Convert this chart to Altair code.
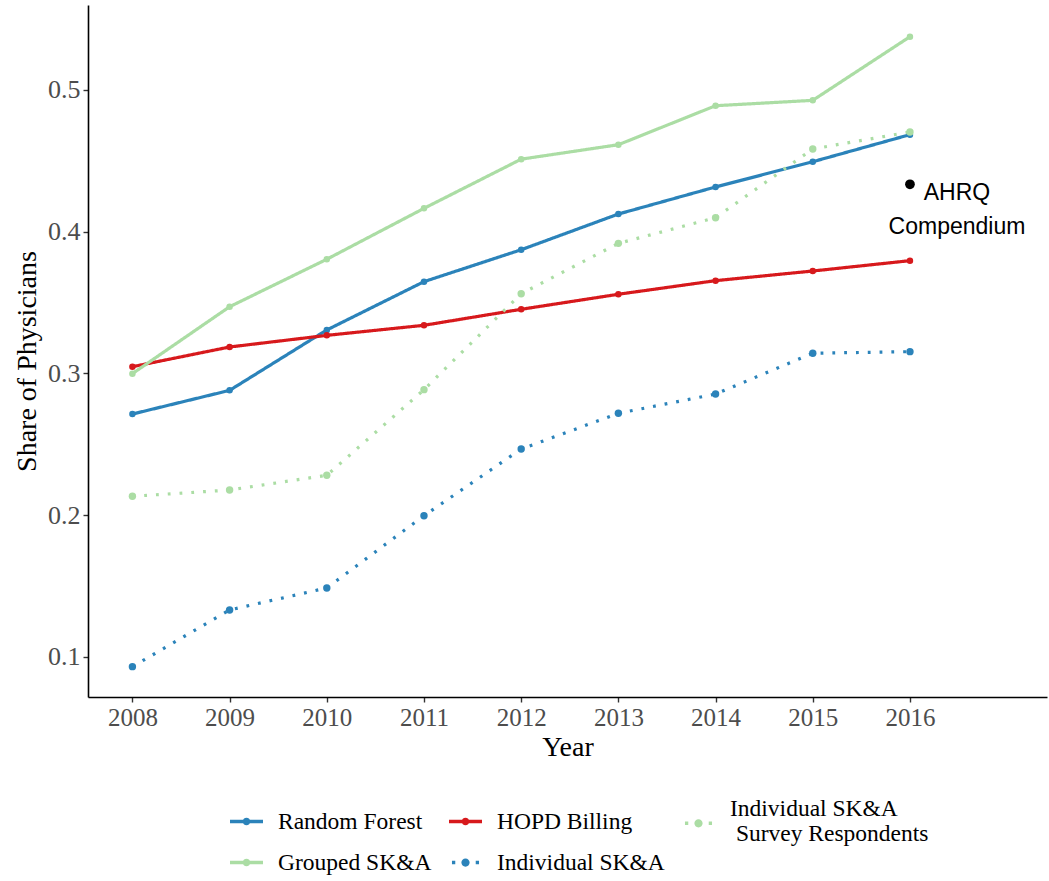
import altair as alt
import pandas as pd

# Share of physicians by year and measurement approach
years = [2008, 2009, 2010, 2011, 2012, 2013, 2014, 2015, 2016]
random_forest = [0.2714, 0.2881, 0.3307, 0.3648, 0.3873, 0.4125, 0.4316, 0.4494, 0.4685]
grouped_ska = [0.2999, 0.3471, 0.3806, 0.4165, 0.4512, 0.4614, 0.4889, 0.4927, 0.5376]
hopd_billing = [0.3048, 0.3187, 0.3269, 0.3340, 0.3453, 0.3559, 0.3655, 0.3723, 0.3796]
individual_ska = [0.0932, 0.1332, 0.1487, 0.1997, 0.2467, 0.2719, 0.2855, 0.3143, 0.3154]
survey_respondents = [0.2134, 0.2178, 0.2282, 0.2886, 0.3563, 0.3918, 0.4099, 0.4584, 0.4704]

ahrq_year = [2016]
ahrq_share = [0.4335]
ahrq_label = ["AHRQ\nCompendium"]

SURVEY = "Individual SK&A Survey Respondents"
series_order = ["Random Forest", "HOPD Billing", SURVEY, "Grouped SK&A", "Individual SK&A"]
series_values = {
    "Random Forest": random_forest,
    "HOPD Billing": hopd_billing,
    SURVEY: survey_respondents,
    "Grouped SK&A": grouped_ska,
    "Individual SK&A": individual_ska,
}
series_style = {
    "Random Forest": "solid",
    "HOPD Billing": "solid",
    SURVEY: "dotted",
    "Grouped SK&A": "solid",
    "Individual SK&A": "dotted",
}
series_colors = ["#2b83ba", "#d7191c", "#abdda4", "#abdda4", "#2b83ba"]
style_order = ["solid", "dotted"]
style_dash = [[1, 0], [2.8, 9]]
style_point_size = [42, 55]

# legend keys: a line segment with a dot in the middle
SOLID_KEY = ("M-1,-0.11H1V0.11H-1Z "
             "M0.23,0A0.23,0.23 0 1,1 -0.23,0A0.23,0.23 0 1,1 0.23,0Z")
DOTTED_KEY = ("M-0.82,-0.1h0.2v0.2h-0.2Z M0.62,-0.1h0.2v0.2h-0.2Z "
              "M0.25,0A0.25,0.25 0 1,1 -0.25,0A0.25,0.25 0 1,1 0.25,0Z")
# same dotted key, lowered to sit between the two lines of its label
DOTTED_KEY_LOW = ("M-0.82,0.78h0.2v0.2h-0.2Z M0.62,0.78h0.2v0.2h-0.2Z "
                  "M0.25,0.88A0.25,0.25 0 1,1 -0.25,0.88A0.25,0.25 0 1,1 0.25,0.88Z")
series_keys = [SOLID_KEY, SOLID_KEY, DOTTED_KEY_LOW, SOLID_KEY, DOTTED_KEY]

rows = []
for name in series_order:
    for yr, v in zip(years, series_values[name]):
        rows.append({"year": yr, "share": v, "series": name, "style": series_style[name]})
df = pd.DataFrame(rows)
ahrq = pd.DataFrame({"year": ahrq_year, "share": ahrq_share, "label": ahrq_label})

SERIF = "Liberation Serif"

x_enc = alt.X(
    "year:Q",
    scale=alt.Scale(domain=[2007.543, 2017.41], nice=False, zero=False),
    axis=alt.Axis(
        values=years, format="d", title="Year", grid=False,
        domainColor="black", domainWidth=1.6,
        tickColor="#333333", tickWidth=1.4, tickSize=5,
        labelFont=SERIF, labelFontSize=25, labelColor="#4d4d4d", labelPadding=3,
        titleFont=SERIF, titleFontSize=28, titleFontWeight="normal", titleColor="black",
        titleBaseline="middle", titleY=50,
    ),
)
y_enc = alt.Y(
    "share:Q",
    scale=alt.Scale(domain=[0.07178, 0.55996], nice=False, zero=False),
    axis=alt.Axis(
        values=[0.1, 0.2, 0.3, 0.4, 0.5], format=".1f", title="Share of Physicians", grid=False,
        domainColor="black", domainWidth=1.6,
        tickColor="#333333", tickWidth=1.4, tickSize=5,
        labelFont=SERIF, labelFontSize=26, labelColor="#4d4d4d", labelPadding=3,
        titleFont=SERIF, titleFontSize=28, titleFontWeight="normal", titleColor="black",
        titleBaseline="middle", titleAlign="center", titleX=-61, titleY=356,
    ),
)

color_scale = alt.Scale(domain=series_order, range=series_colors)

# second line of the long label starts slightly indented
survey_lines = "['Individual SK&A', '\u200b\u00a0Survey Respondents']"

# carries the legend only; it draws no marks of its own
legend_layer = alt.Chart(df).transform_filter("false").mark_point(
    filled=True, opacity=1, size=1089
).encode(
    x=x_enc,
    y=y_enc,
    color=alt.Color(
        "series:N", scale=color_scale,
        legend=alt.Legend(
            title=None, orient="none", legendX=142, legendY=787, direction="horizontal",
            columns=3, symbolSize=1089, symbolStrokeWidth=0, labelFont=SERIF, labelFontSize=23.5,
            labelColor="black", labelOffset=15, columnPadding=17, rowPadding=-1, labelLimit=400,
            padding=0, gridAlign="each",
            labelExpr="datum.label == '" + SURVEY + "' ? " + survey_lines + " : datum.label",
        ),
    ),
    shape=alt.Shape("series:N", scale=alt.Scale(domain=series_order, range=series_keys)),
)

lines = alt.Chart(df).mark_line(strokeWidth=3.2).encode(
    x="year:Q",
    y="share:Q",
    color=alt.Color("series:N", scale=color_scale, legend=None),
    detail="series:N",
    strokeDash=alt.StrokeDash("style:N", scale=alt.Scale(domain=style_order, range=style_dash), legend=None),
)

points = alt.Chart(df).mark_point(filled=True, opacity=1).encode(
    x="year:Q",
    y="share:Q",
    color=alt.Color("series:N", scale=color_scale, legend=None),
    size=alt.Size("style:N", scale=alt.Scale(domain=style_order, range=style_point_size), legend=None),
)

ahrq_point = alt.Chart(ahrq).mark_point(filled=True, opacity=1, color="black", size=95).encode(
    x="year:Q", y="share:Q"
)

ahrq_text = alt.Chart(ahrq).mark_text(
    align="center", baseline="middle", dx=47, dy=9,
    font="Liberation Sans", fontSize=23, color="black", lineBreak="\n", lineHeight=34,
).encode(x="year:Q", y="share:Q", text="label:N")

chart = alt.layer(legend_layer, lines, points, ahrq_point, ahrq_text).properties(
    width=959,
    height=692,
    autosize=alt.AutoSizeParams(type="none"),
    padding={"left": 88, "top": 5, "right": 2, "bottom": 184},
    background="white",
).configure_view(stroke=None)

chart.save("out.html", embed_options={"renderer": "svg", "actions": False})
